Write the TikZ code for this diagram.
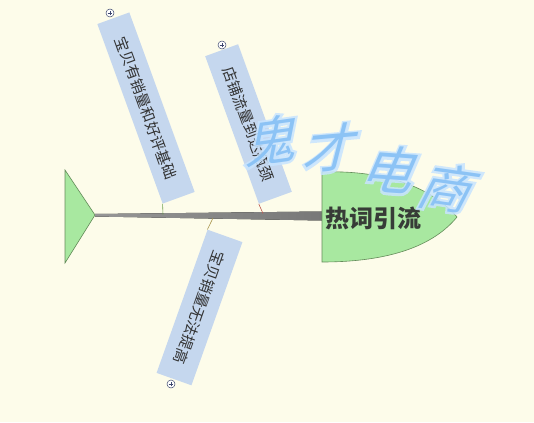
\documentclass[tikz,border=0pt]{standalone}
\usepackage{fontspec}
\setmainfont{Noto Sans CJK SC}
\newfontfamily\cjkfont{Noto Sans CJK SC}
\newfontfamily\glowfont[FakeBold=9]{Noto Sans CJK SC}
\definecolor{bgc}{RGB}{253,252,234}
\definecolor{boxc}{RGB}{197,215,238}
\definecolor{txtc}{RGB}{50,50,50}
\definecolor{fishfill}{RGB}{168,232,160}
\definecolor{fishline}{RGB}{100,140,90}
\definecolor{plusc}{RGB}{60,70,110}
\definecolor{lineA}{RGB}{110,160,80}
\definecolor{lineB}{RGB}{190,90,80}
\definecolor{lineC}{RGB}{170,150,80}
\definecolor{spineL}{RGB}{150,150,150}
\definecolor{spineR}{RGB}{120,120,120}
\definecolor{headtxt}{RGB}{55,60,55}
\definecolor{glowc}{RGB}{200,228,255}
\definecolor{wmc}{RGB}{140,195,245}
\begin{document}
\begin{tikzpicture}[x=1pt,y=-1pt,
  causebox/.style={fill=boxc,inner sep=0pt,
    minimum height=34pt,font=\cjkfont\fontsize{15}{15}\selectfont,text=txtc},
  fishgreen/.style={fill=fishfill,draw=fishline,line width=0.6pt},
  plusmark/.style={circle,draw=plusc,fill=white,minimum size=8pt,inner sep=0pt,line width=0.5pt},
  wmark/.style={font=\cjkfont\fontsize{52}{52}\selectfont,inner sep=0pt},
  wglow/.style={font=\glowfont\fontsize{52}{52}\selectfont,inner sep=0pt,text=glowc,opacity=0.85}
]
\fill[bgc] (0,0) rectangle (534,422);
\useasboundingbox (0,0) rectangle (534,422);

% tail
\coordinate (tailtip) at (95,215);
\draw[fishgreen] (65,170) -- (65,263) -- (tailtip) -- cycle;

% spine
\fill[left color=spineL,right color=spineR]
  (tailtip) -- (95,214) -- (322,211.5) -- (322,220.5) -- (95,216.5) -- cycle;

% cause boxes
\node[causebox,minimum width=191pt,rotate=-70] (c1) at (146,108) {宝贝有销量和好评基础};
\node[causebox,minimum width=157pt,minimum height=35pt,rotate=-70] (c2) at (248.5,124) {店铺流量到达瓶颈};
\node[causebox,minimum width=152pt,minimum height=37pt,rotate=-109.6] (c3) at (199.5,307.5) {宝贝销量无法提高};

% connectors
\coordinate (s1) at (163,214.5);
\coordinate (s2) at (263,213.5);
\coordinate (s3) at (213,218);
\draw[lineA,line width=0.6pt] (s1) -- (c1.south east);
\draw[lineB,line width=0.6pt] (s2) -- (c2.south east);
\draw[lineC,line width=0.6pt] (s3) -- (c3.south west);

% plus markers
\foreach \n/\p in {p1/{(110,13)},p2/{(222,45)},p3/{(171,384)}}{
  \node[plusmark] (\n) at \p {};
  \draw[plusc,line width=0.5pt] ([xshift=-2.3pt]\n.center) -- ([xshift=2.3pt]\n.center)
     ([yshift=-2.3pt]\n.center) -- ([yshift=2.3pt]\n.center);
}

% head
\draw[fishgreen] (322,172) .. controls (380,170) and (430,185) .. (457,217)
  .. controls (430,250) and (380,262) .. (322,262) -- cycle;
\node[font=\cjkfont\bfseries\fontsize{24}{24}\selectfont,text=headtxt,inner sep=0pt] (head) at (373,218) {热词引流};

% watermark
\foreach \ch/\x/\y/\r in {鬼/274/140/8,才/333/148/5,电/393/170/-4,商/450/188/-8}{
  \node[wglow,rotate=\r,xslant=0.35] at (\x,\y) {\ch};
  \node[wmark,text=wmc,rotate=\r,xslant=0.35] at (\x,\y) {\ch};
}
\end{tikzpicture}
\end{document}
